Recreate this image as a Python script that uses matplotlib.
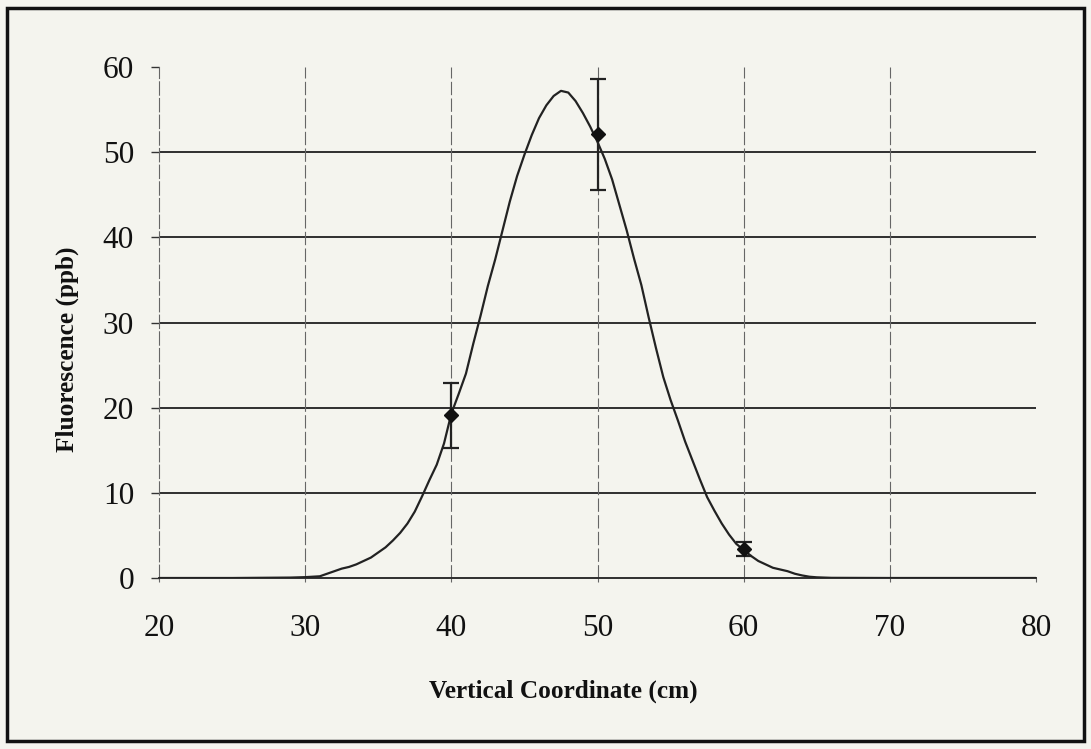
import matplotlib
matplotlib.use("Agg")
import matplotlib.pyplot as plt
from matplotlib.patches import Rectangle

# Model curve
curve_x = [20, 25, 29, 30, 31, 31.5, 32, 32.5, 33, 33.5, 34, 34.5, 35, 35.5, 36, 36.5,
           37, 37.5, 38, 38.5, 39, 39.5, 40, 40.5, 41, 41.5, 42, 42.5, 43, 43.5,
           44, 44.5, 45, 45.5, 46, 46.5, 47, 47.5, 48, 48.5, 49, 49.5, 50, 50.5,
           51, 51.5, 52, 52.5, 53, 53.5, 54, 54.5, 55, 55.5, 56, 56.5, 57, 57.5,
           58, 58.5, 59, 59.5, 60, 60.5, 61, 61.5, 62, 62.5, 63, 63.5, 64, 64.5,
           65, 66, 70, 80]
curve_y = [0, 0, 0.05, 0.1, 0.2, 0.5, 0.8, 1.1, 1.3, 1.6, 2.0, 2.4, 3.0, 3.6, 4.4, 5.3,
           6.4, 7.8, 9.6, 11.5, 13.3, 15.8, 19.3, 21.6, 24.0, 27.5, 30.8, 34.3, 37.4, 40.8,
           44.2, 47.2, 49.7, 52.0, 54.0, 55.5, 56.6, 57.2, 57.0, 56.0, 54.6, 53.0, 51.2, 49.2,
           46.8, 43.8, 40.8, 37.5, 34.4, 30.6, 27.0, 23.6, 20.9, 18.5, 16.0, 13.8, 11.6, 9.5,
           7.9, 6.4, 5.1, 4.0, 3.3, 2.6, 2.0, 1.6, 1.2, 1.0, 0.8, 0.5, 0.3, 0.15,
           0.08, 0.02, 0, 0]

# Measured points with error bars
pts_x = [40, 50, 60]
pts_y = [19.1, 52.1, 3.4]
pts_err = [3.85, 6.5, 0.85]

x_ticks = [20, 30, 40, 50, 60, 70, 80]
y_ticks = [0, 10, 20, 30, 40, 50, 60]

bg = "#f4f4ee"
W, H = 1091, 749
fig = plt.figure(figsize=(W / 100, H / 100), dpi=100, facecolor=bg)
ax = fig.add_axes([159 / W, 1 - 578 / H, (1036 - 159) / W, (578 - 67) / H])
ax.set_facecolor(bg)

# frame around the whole figure
fig.patches.append(Rectangle((7 / W, 8 / H), (1084 - 7) / W, (741 - 8) / H,
                             transform=fig.transFigure, fill=False,
                             edgecolor="#111111", linewidth=2.5))

ax.set_xlim(20, 80)
ax.set_ylim(0, 60)
ax.set_xticks(x_ticks)
ax.set_yticks(y_ticks)

# gridlines
for yv in y_ticks[1:-1]:
    ax.axhline(yv, color="#2e2e2e", lw=1.4, zorder=1)
for xv in x_ticks[1:-1]:
    ax.axvline(xv, color="#666666", lw=0.8, ls=(0, (12, 3)), zorder=1)

for s in ["top", "right"]:
    ax.spines[s].set_visible(False)
ax.spines["left"].set_linestyle((0, (12, 3)))
ax.spines["left"].set_color("#666666")
ax.spines["left"].set_linewidth(0.8)
ax.spines["bottom"].set_color("#2e2e2e")
ax.spines["bottom"].set_linewidth(1.4)

ax.plot(curve_x, curve_y, color="#222222", lw=1.6, zorder=3)
ax.errorbar(pts_x, pts_y, yerr=pts_err, fmt="D", color="#111111", ms=7,
            ecolor="#222222", elinewidth=1.6, capsize=6, capthick=1.6, zorder=4)

serif = ["Liberation Serif", "DejaVu Serif"]
ax.tick_params(axis="y", direction="out", length=6, width=1.0, color="#333333", pad=12)
ax.tick_params(axis="x", direction="out", length=3, width=0.8, color="#666666", pad=23)
for lab in ax.get_xticklabels() + ax.get_yticklabels():
    lab.set_family(serif)
    lab.set_fontsize(22.5)
    lab.set_color("#111111")

ax.set_xlabel("Vertical Coordinate (cm)", family=serif, fontsize=18.2,
              fontweight="bold", labelpad=26, color="#111111")
ax.set_ylabel("Fluorescence (ppb)", family=serif, fontsize=18.2,
              fontweight="bold", labelpad=17, color="#111111")
ax.xaxis.label.set_x(0.461)
ax.yaxis.label.set_y(0.448)

fig.savefig("out.png", dpi=100, facecolor=bg)
